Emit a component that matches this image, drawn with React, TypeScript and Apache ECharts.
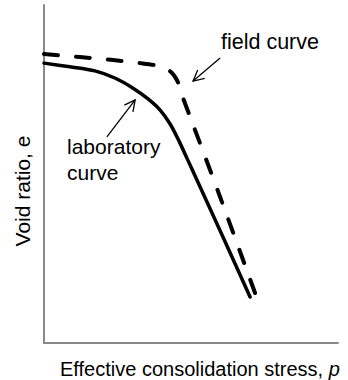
import React, { useEffect, useRef } from "react";
import * as echarts from "echarts";

// Normalised log(stress) on x (0-100) and void ratio on y (0-100)
const labX = [0, 8.8, 17.3, 24.1, 30.3, 35.4, 39.5, 42.9, 45.9, 48.6, 51.4, 60.8, 70.1];
const labY = [82.8, 81.7, 80.5, 78.4, 75.4, 72.2, 68.9, 64.8, 59.8, 54.7, 49.4, 31.5, 13.6];

const fieldX = [0, 12.2, 23.5, 32.7, 37.8, 41.2, 43.5, 45.2, 46.3, 47.3, 49.7, 59.9, 72.4];
const fieldY = [85.5, 84.6, 83.7, 82.8, 82.2, 81.4, 79.9, 77.8, 75.4, 72.5, 66.9, 43.2, 13.3];

// Annotation arrows: [tailX, tailY, headX, headY]
const arrows = [
  [59.9, 84.3, 50.7, 77.5],
  [21.4, 61.0, 31.0, 71.9],
];

const xTitle = "Effective consolidation stress, ";
const xTitleVar = "p";
const yTitle = "Void ratio, e";
const fieldLabel = "field curve";
const labLabel = "laboratory\ncurve";

const FONT = "'Liberation Sans', Arial, Helvetica, sans-serif";

export default function App() {
  const ref = useRef<HTMLDivElement>(null);
  useEffect(() => {
    document.body.style.margin = "0";
    const chart = echarts.init(ref.current!, null, { renderer: "svg" });
    const pair = (xs: number[], ys: number[]) => xs.map((x, i) => [x, ys[i]]);
    chart.setOption({
      animation: false,
      backgroundColor: "#fff",
      grid: { left: 44, top: 5, right: 10, bottom: 37 },
      xAxis: {
        type: "value",
        min: 0,
        max: 100,
        axisLine: { show: true, lineStyle: { color: "#888", width: 2 } },
        axisTick: { show: false },
        axisLabel: { show: false },
        splitLine: { show: false },
      },
      yAxis: {
        type: "value",
        min: 0,
        max: 100,
        axisLine: { show: true, lineStyle: { color: "#888", width: 2 } },
        axisTick: { show: false },
        axisLabel: { show: false },
        splitLine: { show: false },
      },
      series: [
        {
          type: "line",
          name: "laboratory curve",
          data: pair(labX, labY),
          showSymbol: false,
          smooth: 0.3,
          lineStyle: { color: "#000", width: 3.5, cap: "round", join: "round" },
        },
        {
          type: "line",
          name: "field curve",
          data: pair(fieldX, fieldY),
          showSymbol: false,
          smooth: 0.3,
          lineStyle: { color: "#000", width: 4, type: [14, 18], cap: "round", join: "round" },
        },
        {
          type: "custom",
          data: arrows,
          silent: true,
          renderItem: (params: any, api: any) => {
            const p1 = api.coord([api.value(0), api.value(1)]);
            const p2 = api.coord([api.value(2), api.value(3)]);
            const ang = Math.atan2(p1[1] - p2[1], p1[0] - p2[0]);
            const L = 12;
            const a = (27 * Math.PI) / 180;
            const w1 = [p2[0] + L * Math.cos(ang + a), p2[1] + L * Math.sin(ang + a)];
            const w2 = [p2[0] + L * Math.cos(ang - a), p2[1] + L * Math.sin(ang - a)];
            return {
              type: "group",
              children: [
                {
                  type: "line",
                  shape: { x1: p1[0], y1: p1[1], x2: p2[0], y2: p2[1] },
                  style: { stroke: "#000", lineWidth: 1.3 },
                },
                {
                  type: "polyline",
                  shape: { points: [w1, p2, w2] },
                  style: { stroke: "#000", fill: null, lineWidth: 1.3 },
                },
              ],
            };
          },
        },
      ],
      graphic: [
        {
          type: "text",
          x: 221,
          y: 42,
          style: { text: fieldLabel, font: `21.5px ${FONT}`, fill: "#000", verticalAlign: "middle", align: "left" },
        },
        {
          type: "text",
          top: 133,
          left: 67,
          style: {
            text: labLabel,
            font: `21px ${FONT}`,
            lineHeight: 26,
            fill: "#000",
            verticalAlign: "top",
            align: "left",
          },
        },
        {
          type: "text",
          x: 60,
          y: 369,
          style: {
            text: `{a|${xTitle}}{b|${xTitleVar}}`,
            rich: {
              a: { fontSize: 20, fontFamily: FONT, fill: "#000", color: "#000" },
              b: { fontSize: 20, fontFamily: FONT, fontStyle: "italic", fill: "#000", color: "#000" },
            },
            fill: "#000",
            verticalAlign: "middle",
            align: "left",
          },
        },
        {
          type: "text",
          x: 22,
          y: 191,
          rotation: Math.PI / 2,
          style: { text: yTitle, font: `21px ${FONT}`, fill: "#000", verticalAlign: "middle", align: "center" },
        },
      ],
    });
    return () => chart.dispose();
  }, []);
  return <div ref={ref} style={{ width: 348, height: 380 }} />;
}
